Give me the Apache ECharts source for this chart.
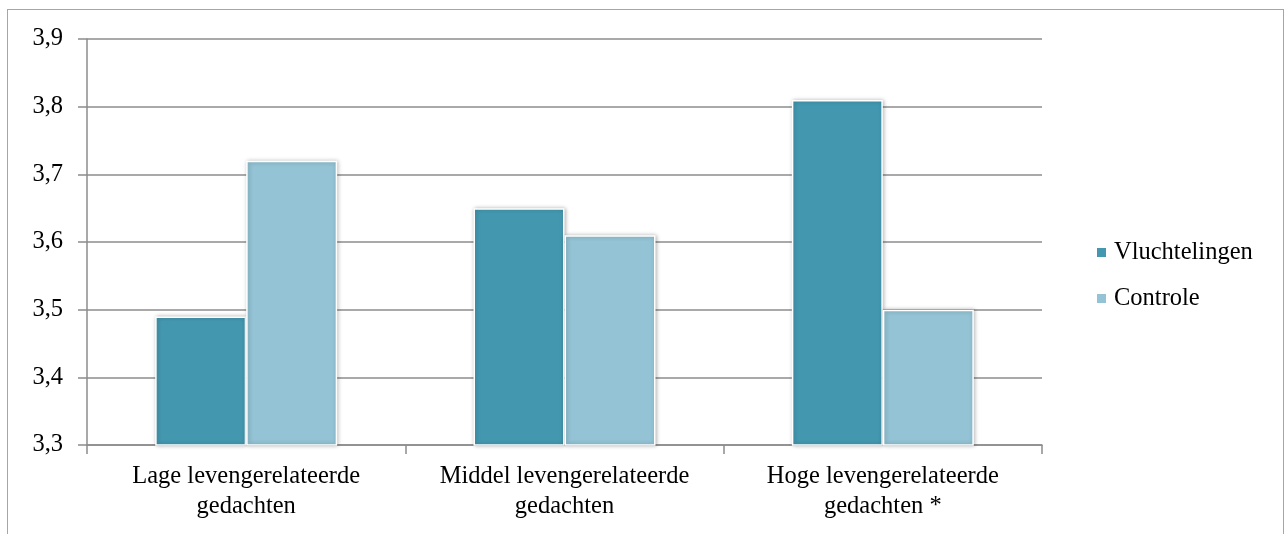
<!DOCTYPE html>
<html><head><meta charset="utf-8">
<script src="https://cdn.jsdelivr.net/npm/echarts@6/dist/echarts.min.js"></script>
<style>html,body{margin:0;padding:0;background:#fff;}#c{width:1285px;height:534px;}
#frame{position:absolute;left:7px;top:9px;width:1275px;height:540px;border:1.5px solid #a6a6a6;border-bottom:none;pointer-events:none;}</style>
</head><body>
<div id="c"></div><div id="frame"></div>
<script>
const categories = ['Lage levengerelateerde\ngedachten', 'Middel levengerelateerde\ngedachten', 'Hoge levengerelateerde\ngedachten *'];
const vluchtelingen = [3.49, 3.65, 3.81];
const controle = [3.72, 3.61, 3.50];
const seriesNames = ['Vluchtelingen', 'Controle'];
const fontFam = '"Liberation Serif", "DejaVu Serif", serif';
const chart = echarts.init(document.getElementById('c'));
const barStyle = (c) => ({color: c, borderColor: '#ffffff', borderWidth: 1.5, shadowBlur: 4, shadowColor: 'rgba(0,0,0,0.28)', shadowOffsetX: 1, shadowOffsetY: 0});
chart.setOption({
  animation: false,
  textStyle: {fontFamily: fontFam},
  grid: {left: 87, right: 243, top: 39, bottom: 89, containLabel: false},
  legend: {
    orient: 'vertical', left: 1090, top: 235, itemWidth: 11, itemHeight: 11, itemGap: 21,
    icon: 'rect', data: seriesNames,
    textStyle: {fontFamily: fontFam, fontSize: 24.5, color: '#000', padding: [0,0,0,2]}
  },
  xAxis: {
    type: 'category', data: categories,
    axisLine: {lineStyle: {color: '#8c8c8c', width: 1.5}},
    axisTick: {show: true, length: 9, alignWithLabel: false, lineStyle: {color: '#8c8c8c', width: 1.5}},
    axisLabel: {fontFamily: fontFam, fontSize: 24.5, color: '#000', margin: 17, lineHeight: 30, interval: 0}
  },
  yAxis: {
    type: 'value', min: 3.3, max: 3.9, interval: 0.1,
    axisLine: {show: true, lineStyle: {color: '#8c8c8c', width: 1.5}},
    axisTick: {show: true, length: 9, lineStyle: {color: '#8c8c8c', width: 1.5}},
    splitLine: {lineStyle: {color: '#8c8c8c', width: 1.5}},
    axisLabel: {fontFamily: fontFam, fontSize: 24.5, color: '#000', margin: 24,
      formatter: v => v.toFixed(1).replace('.', ',')}
  },
  series: [
    {name: seriesNames[0], type: 'bar', data: vluchtelingen, barWidth: 91, barGap: '0%', itemStyle: barStyle('#4398b0')},
    {name: seriesNames[1], type: 'bar', data: controle, barWidth: 91, barGap: '0%', itemStyle: barStyle('#93c3d5')}
  ]
});
</script>
</body></html>
